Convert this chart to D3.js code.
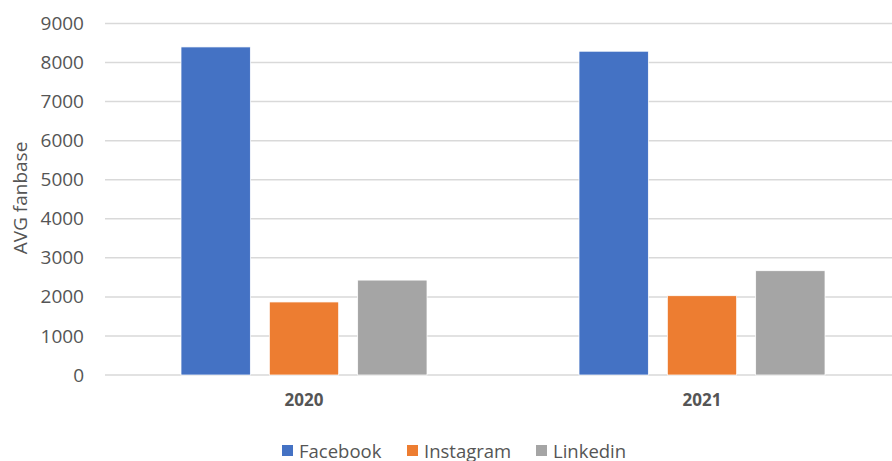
<!DOCTYPE html>
<html>
<head>
<meta charset="utf-8">
<script src="https://cdn.jsdelivr.net/npm/d3@7"></script>
<style>
  html, body { margin: 0; padding: 0; background: #fff; }
  svg { display: block; font-family: "Open Sans", "Liberation Sans", sans-serif; }
</style>
</head>
<body>
<svg id="chart" width="892" height="461"></svg>
<script>
// Average fanbase per platform, by year
const years = ["2020", "2021"];
const platforms = ["Facebook", "Instagram", "Linkedin"];
const facebook = [8400, 8290];
const instagram = [1870, 2030];
const linkedin = [2430, 2670];
const yTicks = [0, 1000, 2000, 3000, 4000, 5000, 6000, 7000, 8000, 9000];
const colors = ["#4472C4", "#ED7D31", "#A5A5A5"];

const seriesValues = [facebook, instagram, linkedin];
const rows = years.map((yr, i) => ({
  year: yr,
  values: platforms.map((p, j) => ({ platform: p, value: seriesValues[j][i] }))
}));

const svg = d3.select("#chart");
const plotLeft = 105, plotRight = 901, plotTop = 23.5, plotBottom = 375;

const y = d3.scaleLinear().domain([0, 9000]).range([plotBottom, plotTop]);
const x0 = d3.scaleBand().domain(years).range([plotLeft, plotRight]).padding(0);
const x1 = d3.scaleBand().domain(platforms).range([76, 322]).paddingInner(0.215).paddingOuter(0);
const color = d3.scaleOrdinal().domain(platforms).range(colors);

// Horizontal gridlines
svg.append("g")
  .selectAll("line")
  .data(yTicks)
  .join("line")
  .attr("x1", plotLeft).attr("x2", 892)
  .attr("y1", d => y(d)).attr("y2", d => y(d))
  .attr("stroke", "#d9d9d9").attr("stroke-width", 1.5);

// Y axis labels
const yAxis = d3.axisLeft(y).tickValues(yTicks).tickSize(0).tickPadding(0).tickFormat(d3.format("d"));
const yg = svg.append("g").attr("transform", "translate(84,0)").call(yAxis);
yg.select(".domain").remove();
yg.attr("font-family", null).attr("font-size", null);
yg.selectAll("text").attr("fill", "#555555").style("font-size", "19px");

// Axis title
svg.append("text")
  .attr("transform", "translate(27,198) rotate(-90)")
  .attr("text-anchor", "middle")
  .attr("fill", "#555555")
  .style("font-size", "19px")
  .text("AVG fanbase");

// Bars
const groups = svg.append("g")
  .selectAll("g")
  .data(rows)
  .join("g")
  .attr("transform", d => `translate(${x0(d.year)},0)`);

groups.selectAll("rect")
  .data(d => d.values)
  .join("rect")
  .attr("x", d => x1(d.platform))
  .attr("width", x1.bandwidth())
  .attr("y", d => y(d.value))
  .attr("height", d => y(0) - y(d.value))
  .attr("fill", d => color(d.platform))
  .attr("stroke", "#ffffff")
  .attr("stroke-width", 0.75);

// Category labels
const xAxis = d3.axisBottom(x0).tickSize(0).tickPadding(0);
const xg = svg.append("g").attr("transform", "translate(0,394)").call(xAxis);
xg.select(".domain").remove();
xg.attr("font-family", null).attr("font-size", null);
xg.selectAll("text")
  .attr("dy", "0.71em")
  .attr("fill", "#555555")
  .style("font-size", "17px")
  .style("font-weight", "bold");

// Legend
const legendX = [282, 407, 536];
const legend = svg.append("g")
  .selectAll("g")
  .data(platforms)
  .join("g")
  .attr("transform", (d, i) => `translate(${legendX[i]},445)`);
legend.append("rect")
  .attr("width", 11).attr("height", 11)
  .attr("fill", d => color(d));
legend.append("text")
  .attr("x", 17).attr("y", 12.5)
  .attr("fill", "#555555")
  .style("font-size", "18.5px")
  .text(d => d);
</script>
</body>
</html>
